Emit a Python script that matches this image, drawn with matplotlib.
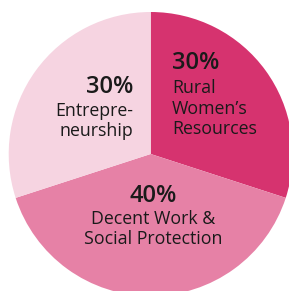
import matplotlib
matplotlib.use("Agg")
import matplotlib.pyplot as plt

categories = ["Rural\nWomen\u2019s\nResources", "Decent Work &\nSocial Protection", "Entrepre-\nneurship"]
values = [30, 40, 30]
pct_labels = ["30%", "40%", "30%"]
colors = ["#D6336F", "#E681A6", "#F6D4E1"]

W, H = 289, 291
fig = plt.figure(figsize=(W / 100, H / 100), dpi=100)
ax = fig.add_axes([0, 0, 1, 1])
ax.pie(values, colors=colors, startangle=90, counterclock=False,
       radius=1.0, wedgeprops=dict(linewidth=0))

cx, cy, R = 150.7, 154.0, 142.0
def px(x, y):
    return (x - cx) / R, (cy - y) / R

ax.set_xlim(-cx / R, (W - cx) / R)
ax.set_ylim((cy - H) / R, cy / R)
ax.set_aspect("auto")
ax.axis("off")

fam = ["Open Sans", "DejaVu Sans"]
txt = "#1a1a1a"
anchors = [((172, 63), (172, 108.5), "left"),
           ((153, 196), (153, 229), "center"),
           ((133, 87), (133, 121), "right")]
for (p1, p2, ha), pct, cat in zip(anchors, pct_labels, categories):
    x, y = px(*p1)
    ax.text(x, y, pct, ha=ha, va="center", fontsize=17, fontweight="semibold",
            color=txt, family=fam)
    x, y = px(*p2)
    ax.text(x, y, cat, ha=ha, va="center", fontsize=12.8, color=txt,
            family=fam, linespacing=1.2, multialignment=ha)

fig.savefig("out.png", dpi=100)
